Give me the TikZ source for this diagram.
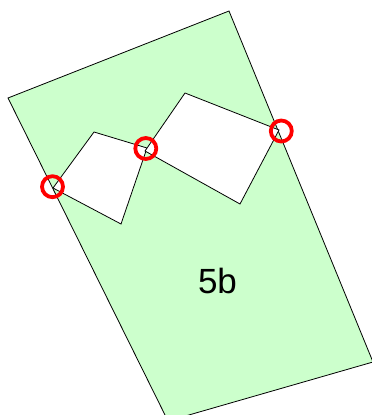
\documentclass[tikz,border=0pt]{standalone}
\usepackage{fontspec}
\setmainfont{Liberation Sans}
\begin{document}
\begin{tikzpicture}[x=1pt,y=-1pt,
  parcel/.style={fill={rgb,255:red,204;green,255;blue,204},draw=black,line width=0.8pt,line join=miter},
  hole/.style={fill=white,draw=black,line width=0.8pt},
  marker/.style={draw=red,line width=3.8pt}]
\useasboundingbox (0,0) rectangle (372,415);
\begin{scope}
\clip (0,0) rectangle (372,415);
\draw[parcel] (229,11) -- (373,362) -- (168,421) -- (8,98) -- cycle;
\end{scope}
\draw[hole] (53,188) -- (94,132) -- (147,148) -- (121,224) -- cycle;
\draw[hole] (145,151) -- (185,93) -- (279,130) -- (240,204) -- cycle;
\draw[marker] (52.5,186.7) circle (10.5);
\draw[marker] (145.8,148.5) circle (10.5);
\draw[marker] (281.3,131) circle (10.5);
\node (label) at (217.5,281) {\fontsize{35}{40}\selectfont 5b};
\end{tikzpicture}
\end{document}
